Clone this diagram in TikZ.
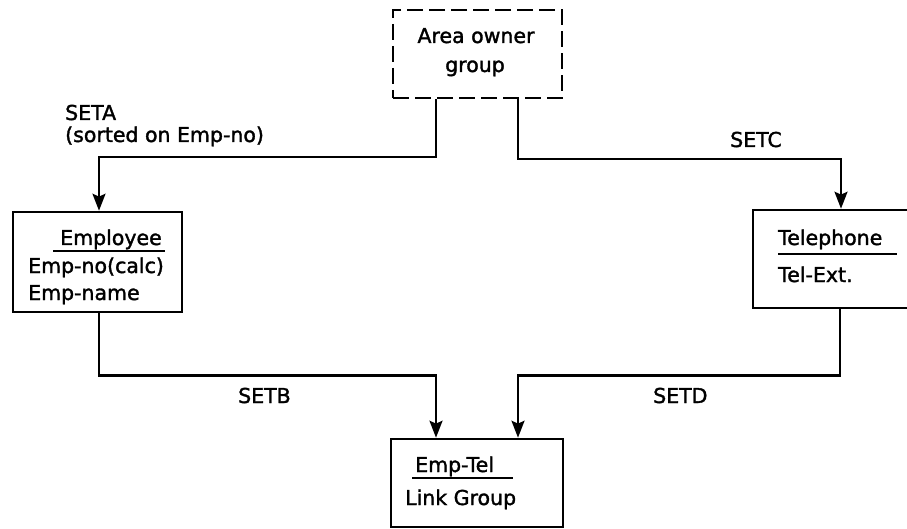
\documentclass[tikz,border=0pt]{standalone}
\usepackage{fontspec}
\setmainfont{DejaVu Sans}[BoldFont={DejaVu Sans},BoldFeatures={FakeBold=1.6}]
\usetikzlibrary{arrows.meta}
\begin{document}
\begin{tikzpicture}[x=1pt,y=-1pt,
  box/.style={draw,line width=2.6pt,rectangle,inner sep=0pt},
  dbox/.style={box,dash pattern=on 16pt off 6pt},
  txt/.style={inner sep=0pt,anchor=base west,font=\fontsize{20.5}{24}\selectfont\bfseries},
  ctxt/.style={txt,anchor=base},
  conn/.style={line width=2.4pt},
  arr/.style={conn,-{Stealth[length=17pt,width=13pt,inset=3pt]}},
  uline/.style={line width=2pt}]
\useasboundingbox (0,0) rectangle (907,529);
\clip (0,0) rectangle (907,529);
% boxes
\node[dbox,minimum width=169pt,minimum height=88pt] (owner) at (477.5,54) {};
\node[box,minimum width=169pt,minimum height=100pt] (emp) at (97.5,262) {};
\node[box,minimum width=159pt,minimum height=98pt] (tel) at (832.5,259) {};
\node[box,minimum width=172pt,minimum height=88pt] (link) at (477,483) {};
% texts in boxes
\node[ctxt] (t1) at (476,43) {Area owner};
\node[ctxt] (t2) at (475,72) {group};
\node[txt] (e1) at (60,245) {Employee};
\draw[uline] (53,251) -- (165,251);
\node[txt] (e2) at (28,273) {Emp-no(calc)};
\node[txt] (e3) at (28,300) {Emp-name};
\node[txt] (p1) at (778,245) {Telephone};
\draw[uline] (778,254) -- (897,254);
\node[txt] (p2) at (778,282) {Tel-Ext.};
\node[txt] (l1) at (415,472) {Emp-Tel};
\draw[uline] (412,478) -- (513,478);
\node[txt] (l2) at (405,505) {Link Group};
% labels
\node[txt] (seta) at (65,120) {SETA};
\node[txt] (sorted) at (65,142) {(sorted on Emp-no)};
\node[txt] (setc) at (730,147) {SETC};
\node[txt] (setb) at (238,403) {SETB};
\node[txt] (setd) at (653,403) {SETD};
% connectors
\draw[arr] ([xshift=-41.5pt]owner.south) -- ++(0,58) -| ([xshift=1.5pt]emp.north);
\draw[arr] ([xshift=40.5pt]owner.south) -- ++(0,60) -| ([xshift=8.5pt]tel.north);
\draw[arr] ([xshift=1.5pt]emp.south) -- ++(0,62) -| ([xshift=-41pt]link.north);
\draw[arr] ([xshift=7.5pt]tel.south) -- ++(0,66) -| ([xshift=41pt]link.north);
\end{tikzpicture}
\end{document}
